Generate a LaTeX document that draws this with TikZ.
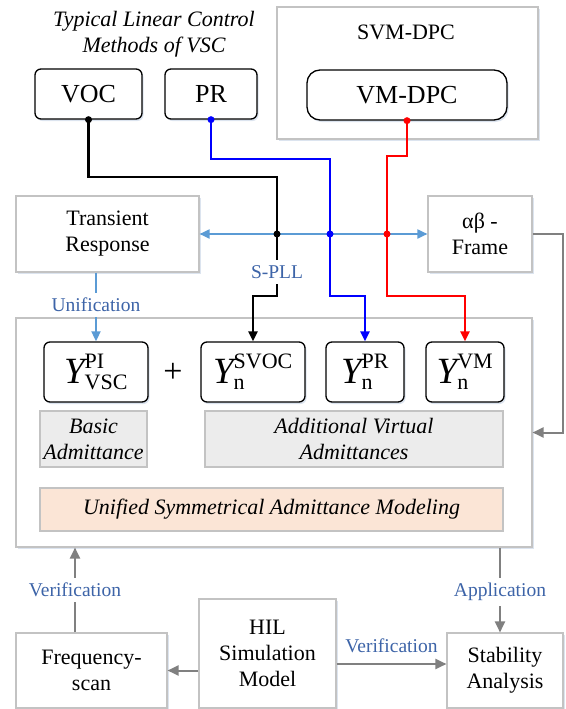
\documentclass[tikz,border=0pt]{standalone}
\usepackage{fontspec}
\setmainfont{Liberation Serif}
\usepackage{amsmath}
\usetikzlibrary{arrows.meta,shadows}
\definecolor{boxgray}{RGB}{195,195,195}
\definecolor{arrgray}{RGB}{128,128,128}
\definecolor{lineblue}{RGB}{91,155,213}
\definecolor{txtblue}{RGB}{61,100,168}
\definecolor{fillgray}{RGB}{236,236,236}
\definecolor{fillpeach}{RGB}{251,229,214}
\definecolor{shadowblue}{RGB}{205,216,232}
\newcommand\scriptpart[1]{\mbox{\fontsize{22}{24}\selectfont #1}}
\newcommand\admit[2]{$\textit{Y}^{\scriptpart{#1}}_{\scriptpart{#2}}$}
\begin{document}
\begin{tikzpicture}[x = 1pt, y = -1pt,
    every node/.style = {inner sep = 0pt, align = center,
                         font = \fontsize{22}{26}\selectfont},
    graybox/.style = {draw = boxgray, fill = white, line width = 1.1pt,
                      drop shadow = {shadow xshift = 1.5pt, shadow yshift = -2pt,
                                     fill = shadowblue, opacity = .7}},
    ctrlbox/.style = {graybox, draw = black, line width = 1.3pt,
                      rounded corners = 6pt, font = \fontsize{26}{30}\selectfont},
    admbox/.style = {ctrlbox, font = \fontsize{37}{40}\selectfont},
    notebox/.style = {draw = boxgray, fill = fillgray, line width = 1.1pt,
                      font = \itshape\fontsize{22}{26}\selectfont},
    tag/.style = {text = txtblue, fill = white, inner xsep = 1pt, inner ysep = 5pt,
                  font = \fontsize{19.5}{23}\selectfont},
    wire/.style = {line width = 2.2pt, -{Triangle[length = 10pt, width = 9pt]}},
    grayarrow/.style = {arrgray, line width = 2pt,
                        -{Triangle[length = 11pt, width = 10pt]}}]
  \useasboundingbox (0,0) rectangle (565,709);

  \node[font = \itshape\fontsize{22}{26}\selectfont] (title) at (154,34)
    {Typical Linear Control\\Methods of VSC};
  \node[graybox, minimum width = 261pt, minimum height = 132pt] (svm) at (407.5,73) {};
  \node (svmtxt) at (406,32) {SVM-DPC};
  \node[ctrlbox, minimum width = 107pt, minimum height = 50pt] (voc) at (88.5,94) {VOC};
  \node[ctrlbox, minimum width = 92pt, minimum height = 50pt] (pr) at (211,94) {PR};
  \node[ctrlbox, rounded corners = 13pt, minimum width = 200pt,
        minimum height = 50pt] (vmdpc) at (407,95) {VM-DPC};

  \node[graybox, minimum width = 183pt, minimum height = 76pt] (trans) at (107.5,234)
    {Transient\\Response};
  \node[graybox, minimum width = 104pt, minimum height = 76pt] (frame) at (480,234)
    {αβ -\\Frame};

  \node[graybox, minimum width = 516pt, minimum height = 229pt] (model) at (274,432.5) {};
  \node[admbox, minimum width = 104pt, minimum height = 60pt] (ypi) at (96,372)
    {\admit{PI}{VSC}};
  \node[font = \fontsize{34}{36}\selectfont] (plus) at (173,373) {+};
  \node[admbox, minimum width = 104pt, minimum height = 60pt] (ysvoc) at (253,372)
    {\admit{SVOC}{n}};
  \node[admbox, minimum width = 78pt, minimum height = 60pt] (ypr) at (365,372)
    {\admit{PR}{n}};
  \node[admbox, minimum width = 78pt, minimum height = 60pt] (yvm) at (465,372)
    {\admit{VM}{n}};
  \node[notebox, minimum width = 107pt, minimum height = 56pt] (basic) at (93.5,439)
    {Basic\\Admittance};
  \node[notebox, minimum width = 298pt, minimum height = 56pt] (extra) at (354,439)
    {Additional Virtual\\Admittances};
  \node[notebox, fill = fillpeach, minimum width = 463pt, minimum height = 43pt]
    (unified) at (271.5,509.5) {Unified Symmetrical Admittance Modeling};

  \node[graybox, minimum width = 151pt, minimum height = 75pt] (freq) at (91.5,670.5)
    {Frequency-\\scan};
  \node[graybox, minimum width = 137pt, minimum height = 109pt] (hil) at (267.5,653.5)
    {HIL\\Simulation\\Model};
  \node[graybox, minimum width = 116pt, minimum height = 75pt] (stab) at (505,670.5)
    {Stability\\Analysis};

  \coordinate (jk) at (277,234);
  \coordinate (jb) at (330,234);
  \coordinate (jr) at (387,234);
  \coordinate (verif) at ([xshift = -16.5pt]freq.north);
  \coordinate (appl) at ([xshift = -5pt]stab.north);
  \coordinate (simout) at ([yshift = 6.5pt]stab.west);

  \draw[lineblue, line width = 1.8pt,
        {Triangle[length = 10pt, width = 9pt]}-{Triangle[length = 10pt, width = 9pt]}]
    (trans) -- (frame);
  \draw[wire] (voc.south) -- ++(0,57) -| (jk) -- ++(0,62) -| (ysvoc.north);
  \draw[wire, blue] (pr.south) -- ++(0,39) -| (jb) -- ++(0,62) -| (ypr.north);
  \draw[wire, red] (vmdpc.south) -- ++(0,35) -| (jr) -- ++(0,62) -| (yvm.north);
  \foreach \p/\c in {voc.south/black, jk/black, pr.south/blue, jb/blue,
                     vmdpc.south/red, jr/red}
  {
    \fill[\c] (\p) circle (3.5pt);
  };
  \node[tag] (spll) at (277,272) {S-PLL};

  \draw[lineblue, line width = 1.8pt, -{Triangle[length = 10pt, width = 9pt]}]
    (trans.south -| ypi.north) -- (ypi.north)
    node[tag, pos = .47] (unif) {Unification};
  \draw[grayarrow] (frame.east) -- ++(30,0) |- (model.east);
  \draw[grayarrow] (verif) -- (verif |- model.south)
    node[tag, pos = .5] (verup) {Verification};
  \draw[grayarrow] (appl |- model.south) -- (appl)
    node[tag, pos = .52] (apply) {Application};
  \draw[grayarrow] (hil.west |- freq) -- (freq.east);
  \draw[grayarrow] (simout -| hil.east) -- (simout)
    node[tag, midway, yshift = 18pt] (verright) {Verification};
\end{tikzpicture}
\end{document}
